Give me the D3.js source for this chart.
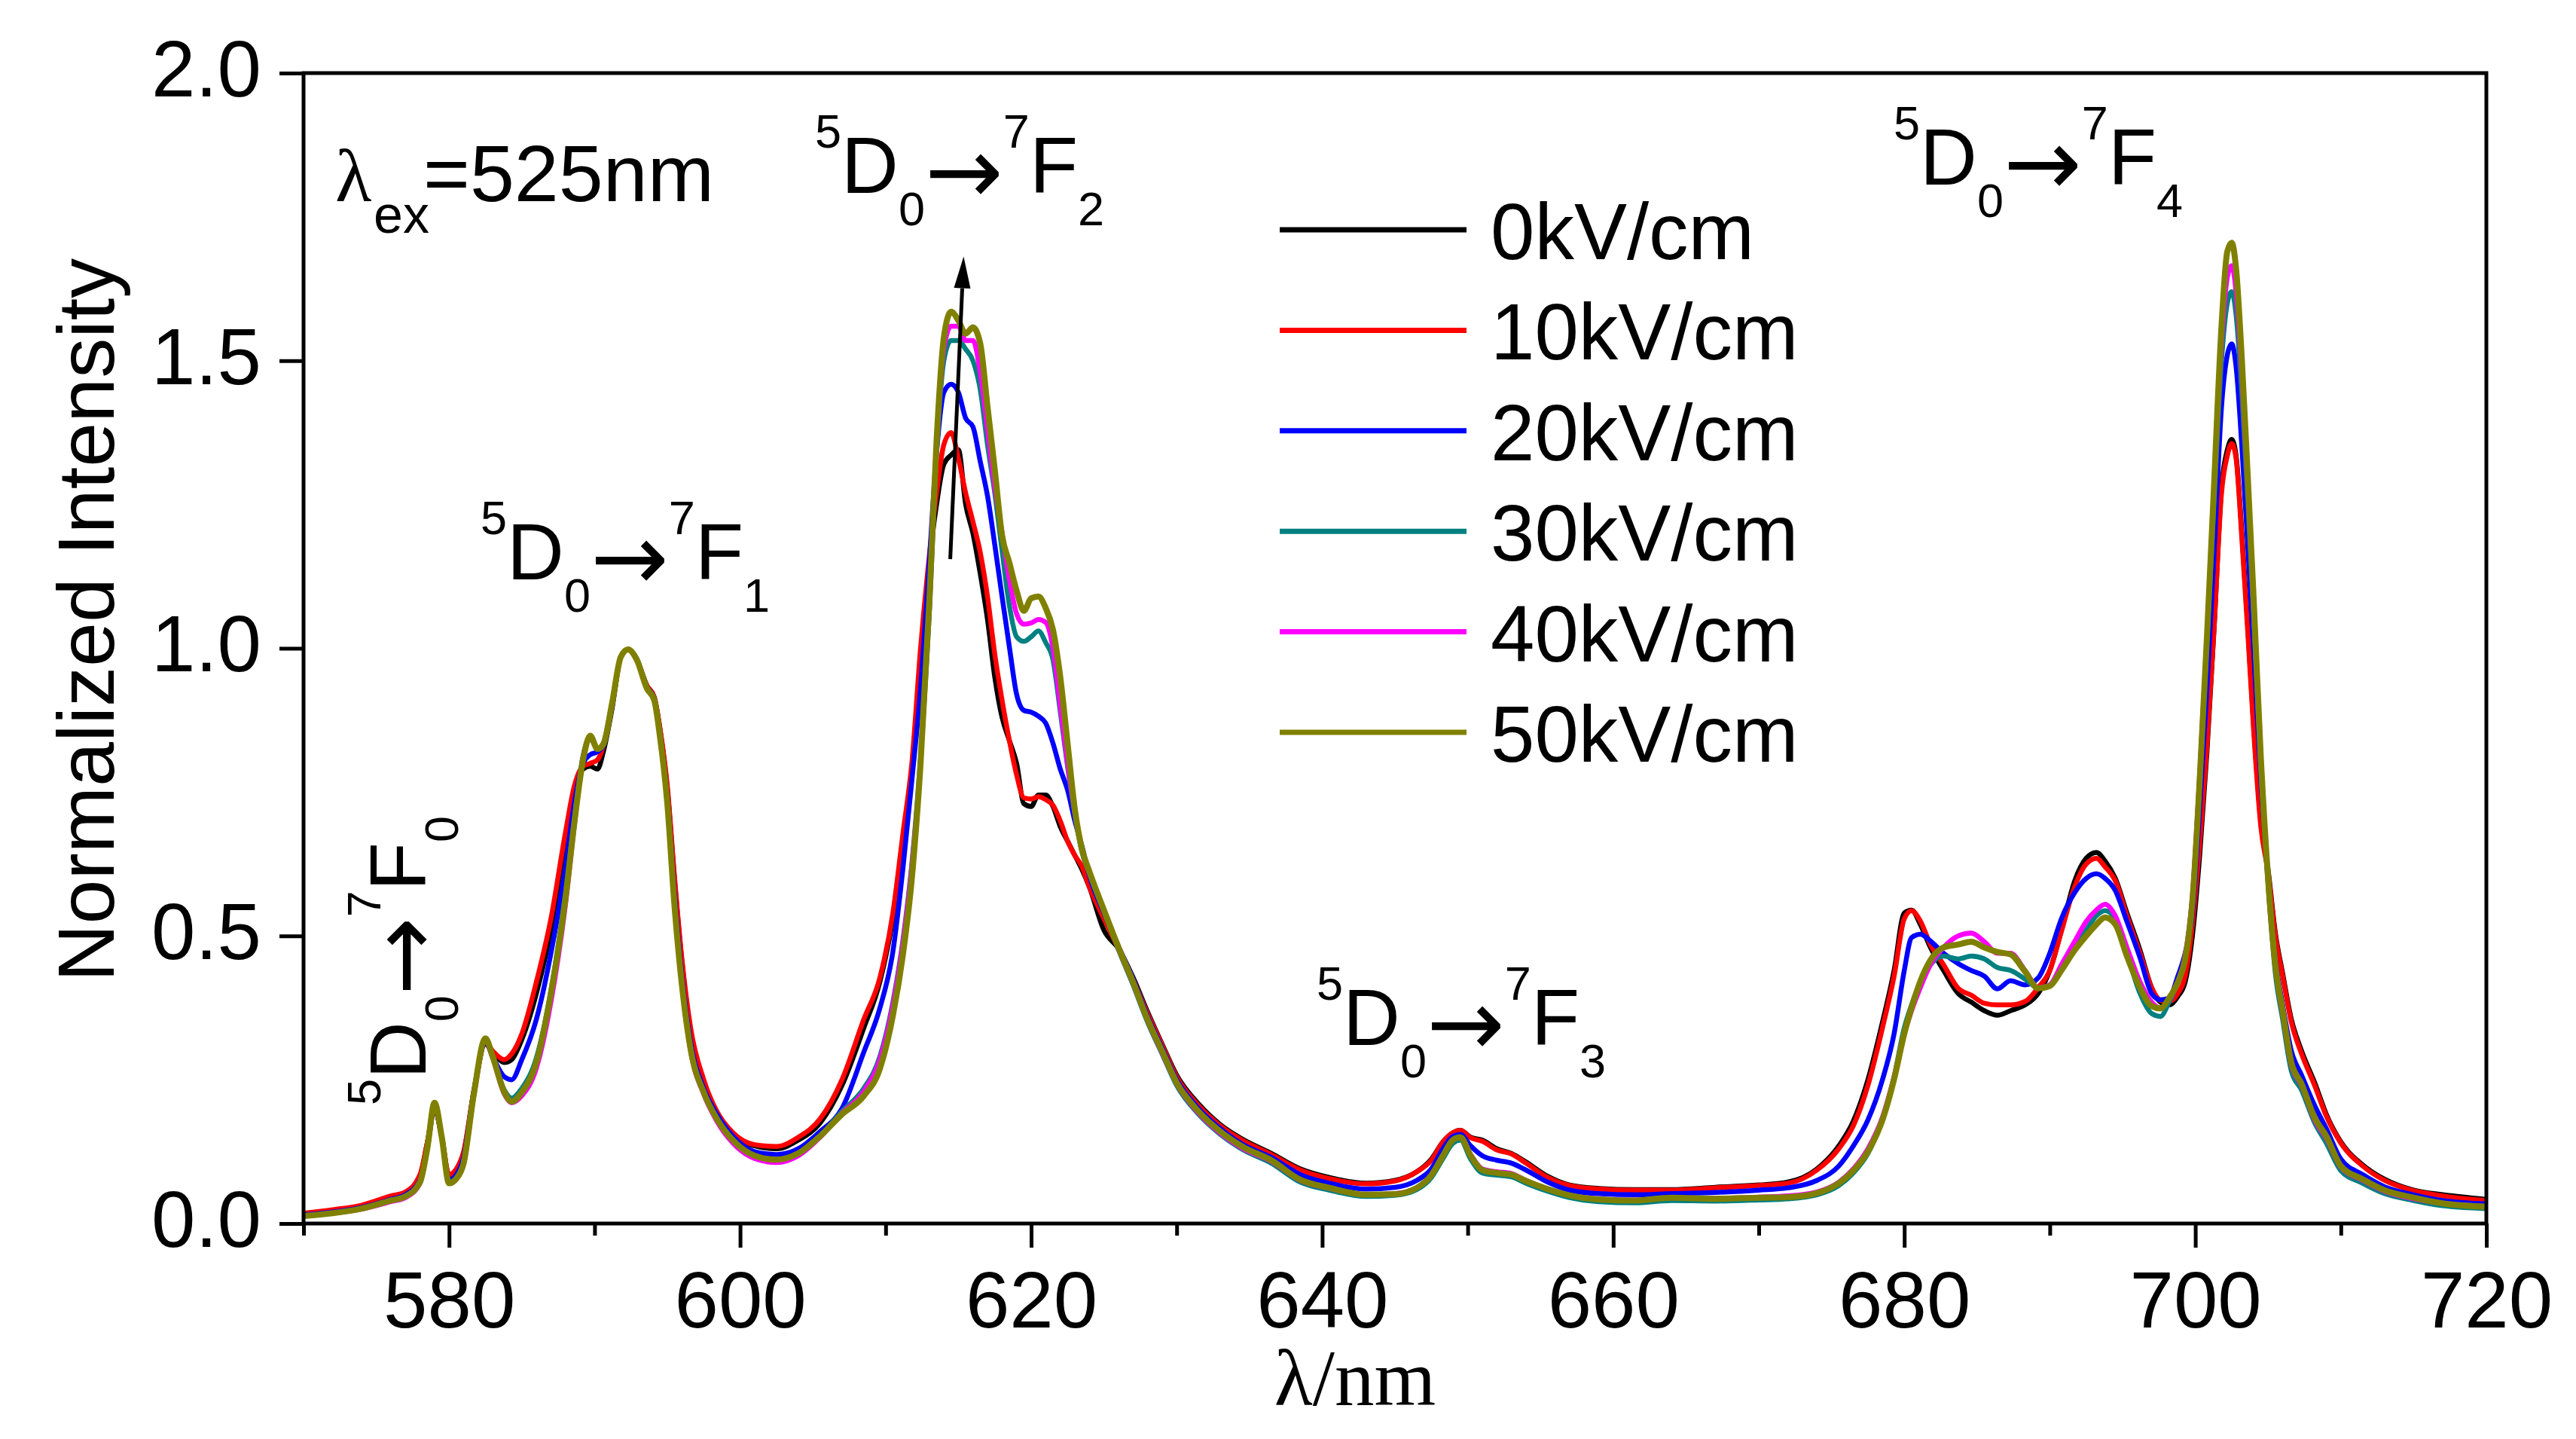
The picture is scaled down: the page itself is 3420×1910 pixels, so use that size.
<!DOCTYPE html>
<html>
<head>
<meta charset="utf-8">
<script src="https://cdn.jsdelivr.net/npm/d3@7"></script>
<style>
html,body{margin:0;padding:0;background:#ffffff;}
svg{display:block;}
</style>
</head>
<body>
<svg id="chart" width="3420" height="1910"></svg>
<script>
// ---------------- DATA ----------------
const wavelength = [
570,572,574,576,577,578,578.5,579,579.5,580,
580.5,581,581.7,582.5,583,583.8,584.3,585,586,587,
588,588.6,589.2,589.7,590.2,590.6,591.2,591.8,592.3,592.9,
593.6,594.1,594.5,595,595.5,596,596.6,597.5,598.4,599.5,
601,602.5,604,605.5,607,608.5,609.6,610.5,611.2,611.8,
612.4,613,613.5,614,614.5,615,615.5,616,616.5,617,
617.5,618,618.5,619,619.5,620,620.5,621,621.5,622,
622.5,623,623.5,624,625,626,627,628,629,630,
631.5,633,634.5,636.5,638.5,640.5,643,645,646.5,647.5,
648.3,649,649.5,650.2,651,652,653,654,655.5,657,
659,661.5,664,667,670,672,674,675.5,676.5,677.5,
678.5,679.3,680,680.5,681.1,681.8,682.7,683.7,684.6,685.5,
686.4,687.3,688.3,689.2,690,690.8,691.7,692.5,693.2,693.8,
694.5,695.3,696.2,697,697.6,698.2,698.8,699.3,699.8,700.3,
700.8,701.3,701.8,702.2,702.5,702.8,703.2,703.6,704,704.5,
705,705.5,706,706.6,707.3,708.2,709,710,711.5,713,
715,717,720
];

const i0kV = [
0.016,0.022,0.030,0.046,0.053,0.082,0.14,0.200,0.15,0.082,
0.092,0.122,0.228,0.312,0.298,0.280,0.285,0.320,0.400,0.510,
0.660,0.750,0.790,0.795,0.790,0.820,0.895,0.985,0.998,0.980,
0.935,0.915,0.858,0.755,0.595,0.455,0.335,0.248,0.193,0.155,
0.135,0.130,0.145,0.175,0.240,0.340,0.420,0.530,0.660,0.780,
0.980,1.150,1.250,1.320,1.336,1.345,1.250,1.200,1.130,1.050,
0.950,0.880,0.840,0.800,0.730,0.725,0.745,0.745,0.725,0.690,
0.665,0.640,0.615,0.585,0.510,0.478,0.428,0.368,0.312,0.258,
0.208,0.172,0.147,0.122,0.095,0.080,0.070,0.075,0.090,0.112,
0.142,0.158,0.162,0.150,0.145,0.130,0.122,0.107,0.082,0.067,
0.061,0.059,0.059,0.063,0.067,0.072,0.095,0.135,0.178,0.250,
0.350,0.440,0.540,0.545,0.520,0.480,0.440,0.400,0.385,0.370,
0.362,0.370,0.380,0.400,0.440,0.510,0.595,0.635,0.645,0.630,
0.600,0.540,0.475,0.410,0.385,0.380,0.395,0.420,0.500,0.640,
0.820,1.040,1.280,1.345,1.363,1.335,1.200,1.040,0.870,0.700,
0.615,0.505,0.435,0.355,0.300,0.245,0.190,0.142,0.102,0.077,
0.058,0.050,0.042
];

const i10kV = [
0.018,0.024,0.032,0.048,0.055,0.085,0.14,0.200,0.15,0.085,
0.095,0.125,0.230,0.315,0.300,0.285,0.295,0.330,0.420,0.530,
0.680,0.760,0.795,0.800,0.806,0.830,0.900,0.985,0.998,0.980,
0.935,0.915,0.860,0.760,0.600,0.460,0.340,0.250,0.195,0.158,
0.137,0.134,0.150,0.182,0.250,0.355,0.427,0.540,0.680,0.800,
1.000,1.160,1.270,1.354,1.375,1.330,1.270,1.220,1.167,1.090,
0.990,0.910,0.840,0.780,0.740,0.738,0.742,0.737,0.727,0.700,
0.665,0.640,0.620,0.585,0.530,0.478,0.425,0.365,0.310,0.255,
0.205,0.170,0.145,0.120,0.093,0.078,0.069,0.074,0.090,0.110,
0.142,0.158,0.162,0.149,0.143,0.128,0.121,0.105,0.080,0.066,
0.060,0.058,0.058,0.062,0.066,0.070,0.093,0.130,0.170,0.240,
0.340,0.430,0.530,0.544,0.526,0.485,0.450,0.409,0.397,0.383,
0.380,0.380,0.386,0.410,0.440,0.508,0.585,0.625,0.635,0.620,
0.596,0.535,0.470,0.410,0.388,0.386,0.400,0.430,0.520,0.660,
0.830,1.040,1.270,1.335,1.356,1.330,1.190,1.030,0.860,0.690,
0.610,0.500,0.430,0.350,0.295,0.240,0.187,0.140,0.100,0.075,
0.057,0.048,0.040
];

const i20kV = [
0.015,0.020,0.028,0.042,0.050,0.075,0.13,0.200,0.15,0.075,
0.085,0.115,0.230,0.315,0.290,0.255,0.250,0.285,0.355,0.470,
0.620,0.730,0.800,0.815,0.820,0.830,0.900,0.985,0.998,0.980,
0.932,0.912,0.850,0.740,0.570,0.430,0.315,0.235,0.190,0.152,
0.125,0.120,0.130,0.160,0.200,0.298,0.374,0.473,0.620,0.770,
0.930,1.150,1.340,1.445,1.459,1.445,1.400,1.385,1.325,1.265,
1.180,1.090,1.003,0.920,0.892,0.889,0.882,0.870,0.835,0.790,
0.754,0.700,0.655,0.605,0.540,0.482,0.425,0.360,0.305,0.250,
0.200,0.165,0.138,0.115,0.085,0.070,0.060,0.063,0.075,0.095,
0.130,0.152,0.155,0.135,0.118,0.110,0.105,0.093,0.072,0.058,
0.052,0.050,0.052,0.054,0.058,0.062,0.075,0.100,0.135,0.180,
0.250,0.330,0.440,0.497,0.503,0.491,0.470,0.452,0.440,0.430,
0.408,0.422,0.415,0.427,0.470,0.530,0.575,0.600,0.608,0.600,
0.579,0.525,0.462,0.400,0.389,0.392,0.430,0.470,0.540,0.720,
0.930,1.170,1.420,1.510,1.529,1.490,1.350,1.180,1.000,0.770,
0.600,0.460,0.380,0.300,0.258,0.205,0.165,0.112,0.085,0.064,
0.050,0.040,0.034
];

const i30kV = [
0.013,0.018,0.026,0.039,0.046,0.071,0.13,0.205,0.15,0.072,
0.080,0.106,0.224,0.318,0.290,0.232,0.218,0.235,0.288,0.405,
0.575,0.700,0.812,0.843,0.825,0.835,0.905,0.985,0.998,0.982,
0.932,0.912,0.848,0.735,0.555,0.418,0.305,0.228,0.180,0.143,
0.115,0.108,0.120,0.152,0.195,0.235,0.290,0.385,0.495,0.625,
0.810,1.060,1.340,1.500,1.535,1.535,1.520,1.500,1.450,1.354,
1.270,1.170,1.075,1.020,1.012,1.020,1.030,1.010,0.980,0.890,
0.795,0.712,0.645,0.608,0.542,0.476,0.415,0.350,0.295,0.240,
0.190,0.155,0.129,0.105,0.072,0.058,0.047,0.049,0.059,0.080,
0.113,0.140,0.145,0.112,0.088,0.084,0.081,0.070,0.056,0.045,
0.038,0.036,0.040,0.039,0.041,0.043,0.050,0.066,0.088,0.122,
0.180,0.255,0.340,0.380,0.420,0.450,0.465,0.460,0.465,0.460,
0.445,0.440,0.425,0.410,0.415,0.445,0.480,0.510,0.535,0.544,
0.530,0.470,0.400,0.365,0.360,0.385,0.420,0.462,0.565,0.775,
1.010,1.260,1.500,1.600,1.620,1.580,1.440,1.260,1.060,0.790,
0.590,0.435,0.355,0.265,0.232,0.175,0.140,0.092,0.070,0.052,
0.040,0.031,0.026
];

const i40kV = [
0.013,0.018,0.025,0.038,0.045,0.070,0.13,0.205,0.15,0.070,
0.078,0.103,0.222,0.318,0.288,0.225,0.210,0.222,0.270,0.385,
0.555,0.690,0.810,0.845,0.825,0.833,0.904,0.985,0.998,0.980,
0.930,0.910,0.845,0.730,0.550,0.415,0.300,0.225,0.178,0.140,
0.113,0.106,0.118,0.150,0.192,0.230,0.285,0.380,0.490,0.620,
0.800,1.070,1.350,1.520,1.560,1.560,1.535,1.535,1.480,1.380,
1.280,1.200,1.120,1.060,1.042,1.044,1.050,1.045,1.000,0.900,
0.800,0.715,0.648,0.610,0.545,0.478,0.418,0.353,0.297,0.243,
0.192,0.157,0.131,0.108,0.075,0.061,0.050,0.052,0.062,0.085,
0.118,0.146,0.150,0.120,0.095,0.090,0.087,0.075,0.060,0.049,
0.043,0.041,0.045,0.044,0.046,0.048,0.055,0.072,0.095,0.130,
0.185,0.255,0.330,0.370,0.410,0.450,0.480,0.500,0.505,0.490,
0.470,0.470,0.440,0.410,0.415,0.450,0.490,0.525,0.545,0.555,
0.535,0.480,0.420,0.385,0.375,0.390,0.420,0.465,0.570,0.780,
1.020,1.280,1.530,1.645,1.665,1.620,1.470,1.280,1.070,0.800,
0.595,0.445,0.365,0.275,0.240,0.180,0.148,0.098,0.075,0.056,
0.043,0.035,0.030
];

const i50kV = [
0.013,0.018,0.026,0.040,0.047,0.072,0.13,0.210,0.15,0.070,
0.078,0.105,0.225,0.322,0.290,0.228,0.212,0.228,0.280,0.400,
0.565,0.695,0.805,0.848,0.825,0.833,0.904,0.985,0.998,0.980,
0.930,0.910,0.845,0.730,0.550,0.415,0.303,0.228,0.182,0.145,
0.118,0.111,0.122,0.152,0.190,0.222,0.269,0.362,0.470,0.600,
0.800,1.080,1.360,1.540,1.585,1.570,1.547,1.558,1.530,1.420,
1.310,1.196,1.149,1.100,1.065,1.087,1.090,1.070,1.032,0.950,
0.835,0.720,0.650,0.612,0.545,0.480,0.420,0.355,0.300,0.245,
0.195,0.160,0.134,0.110,0.076,0.062,0.050,0.051,0.062,0.084,
0.118,0.146,0.150,0.118,0.093,0.088,0.085,0.074,0.060,0.049,
0.042,0.040,0.045,0.043,0.045,0.046,0.053,0.070,0.092,0.125,
0.180,0.251,0.330,0.375,0.421,0.458,0.480,0.485,0.490,0.480,
0.472,0.468,0.438,0.409,0.413,0.440,0.475,0.500,0.520,0.532,
0.520,0.465,0.410,0.378,0.374,0.392,0.420,0.460,0.560,0.770,
1.020,1.290,1.560,1.690,1.705,1.660,1.500,1.300,1.090,0.810,
0.600,0.450,0.370,0.280,0.243,0.184,0.152,0.100,0.077,0.058,
0.045,0.035,0.029
];

const seriesLabels = ["0kV/cm","10kV/cm","20kV/cm","30kV/cm","40kV/cm","50kV/cm"];
const xTickValues = [580,600,620,640,660,680,700,720];
const xMinorTickValues = [570,590,610,630,650,670,690,710];
const yTickValues = [0.0,0.5,1.0,1.5,2.0];
const transitionSubscripts = ["0","1","2","3","4"];
const excitationText = ["λ","ex","=525nm"];
const arrowFrom = [614.44, 1.155];
const arrowTo = [615.36, 1.681];

// ---------------- STYLE ----------------
const seriesColors = ["#000000","#ff0000","#0000ff","#008080","#ff00ff","#808000"];
const SANS = "'Liberation Sans', Arial, Helvetica, sans-serif";
const SERIF = "'Liberation Serif', 'Times New Roman', Times, serif";
const ARROWFONT = "'DejaVu Sans', 'Liberation Sans', sans-serif";

// ---------------- CHART ----------------
const m = {left:403, right:3301, top:97, bottom:1624};
const x = d3.scaleLinear().domain([570,720]).range([m.left, m.right]);
const y = d3.scaleLinear().domain([0,2]).range([m.bottom, m.top]);
const svg = d3.select("#chart");

svg.append("rect").attr("width",3420).attr("height",1910).attr("fill","#ffffff");

svg.append("defs").append("clipPath").attr("id","plotclip")
  .append("rect").attr("x",m.left).attr("y",m.top)
  .attr("width",m.right-m.left).attr("height",m.bottom-m.top);

const allValues = [i0kV,i10kV,i20kV,i30kV,i40kV,i50kV];
const series = allValues.map((vals,k)=>({
  name: seriesLabels[k],
  color: seriesColors[k],
  values: wavelength.map((w,j)=>[w, vals[j]])
}));

const line = d3.line().x(d=>x(d[0])).y(d=>y(d[1])).curve(d3.curveMonotoneX);

svg.append("g").attr("clip-path","url(#plotclip)")
  .selectAll("path").data(series).join("path")
  .attr("d", d=>line(d.values))
  .attr("fill","none")
  .attr("stroke", d=>d.color)
  .attr("stroke-width", (d,i)=> i===5 ? 8 : 6.5)
  .attr("stroke-linejoin","round")
  .attr("stroke-linecap","round");

// axes
function styleAxis(g){
  g.select(".domain").remove();
  g.selectAll(".tick line").attr("stroke","#000").attr("stroke-width",5);
  g.attr("font-family",SANS).attr("font-size",105);
  g.selectAll(".tick text").attr("fill","#000");
}
const gx = svg.append("g").attr("transform",`translate(0,${m.bottom})`)
  .call(d3.axisBottom(x).tickValues(xTickValues).tickFormat(d3.format("d")).tickSize(32).tickPadding(31));
styleAxis(gx);
const gxm = svg.append("g").attr("transform",`translate(0,${m.bottom})`)
  .call(d3.axisBottom(x).tickValues(xMinorTickValues).tickFormat("").tickSize(16));
styleAxis(gxm);
const gy = svg.append("g").attr("transform",`translate(${m.left},0)`)
  .call(d3.axisLeft(y).tickValues(yTickValues).tickFormat(d3.format(".1f")).tickSize(32).tickPadding(24));
styleAxis(gy);
gy.selectAll(".tick text").attr("dy","0.29em");

// frame
svg.append("rect").attr("x",m.left).attr("y",m.top)
  .attr("width",m.right-m.left).attr("height",m.bottom-m.top)
  .attr("fill","none").attr("stroke","#000").attr("stroke-width",5);

// axis titles
svg.append("text").attr("transform","translate(151,823) rotate(-90)")
  .attr("text-anchor","middle").attr("font-family",SANS).attr("font-size",106)
  .text("Normalized Intensity");
svg.append("text").attr("x",1799).attr("y",1865)
  .attr("text-anchor","middle").attr("font-family",SERIF).attr("font-size",105)
  .text("λ/nm");

// legend
const leg = svg.append("g");
series.forEach((s,i)=>{
  const ly = 305 + i*133.4;
  leg.append("line").attr("x1",1699).attr("x2",1947).attr("y1",ly).attr("y2",ly)
    .attr("stroke",s.color).attr("stroke-width",7);
  leg.append("text").attr("x",1979).attr("y",ly+39)
    .attr("font-family",SANS).attr("font-size",105).text(s.name);
});

// excitation label
const ex = svg.append("text").attr("y",267).attr("font-family",SANS).attr("font-size",106);
ex.append("tspan").attr("x",445).attr("font-family",SERIF).attr("font-size",100).text(excitationText[0]);
ex.append("tspan").attr("x",496).attr("dy",42).attr("font-size",70).text(excitationText[1]);
ex.append("tspan").attr("x",562).attr("dy",-42).text(excitationText[2]);

// transition labels 5D0 -> 7Fn
function transition(tx, ty, sub, rotate){
  const t = svg.append("text").attr("font-family",SANS).attr("font-size",105)
    .attr("transform", rotate ? `translate(${tx},${ty}) rotate(-90)` : `translate(${tx},${ty})`);
  const parts = [["5",63,-60,SANS],["D",105,60,SANS],["0",63,43,SANS],["→",124,-29,ARROWFONT],
                 ["7",63,-74,SANS],["F",105,60,SANS],[sub,63,43,SANS]];
  parts.forEach(p=>{
    t.append("tspan").attr("font-size",p[1]).attr("dy",p[2]).attr("font-family",p[3]).text(p[0]);
  });
}
transition(565,1467,transitionSubscripts[0],true);
transition(638,769,transitionSubscripts[1],false);
transition(1082,256,transitionSubscripts[2],false);
transition(1748,1387,transitionSubscripts[3],false);
transition(2514,245,transitionSubscripts[4],false);

// arrow annotation
(function(){
  const x1 = x(arrowFrom[0]), y1 = y(arrowFrom[1]);
  const x2 = x(arrowTo[0]), y2 = y(arrowTo[1]);
  const dx = x2-x1, dy = y2-y1, len = Math.hypot(dx,dy);
  const ux = dx/len, uy = dy/len, nx = -uy, ny = ux;
  const hl = 42, hw = 11;
  const bx = x2-ux*hl, by = y2-uy*hl;
  svg.append("line").attr("x1",x1).attr("y1",y1).attr("x2",bx).attr("y2",by)
    .attr("stroke","#000").attr("stroke-width",5);
  svg.append("path")
    .attr("d",`M${x2},${y2}L${bx+nx*hw},${by+ny*hw}L${bx-nx*hw},${by-ny*hw}Z`)
    .attr("fill","#000");
})();
</script>
</body>
</html>
